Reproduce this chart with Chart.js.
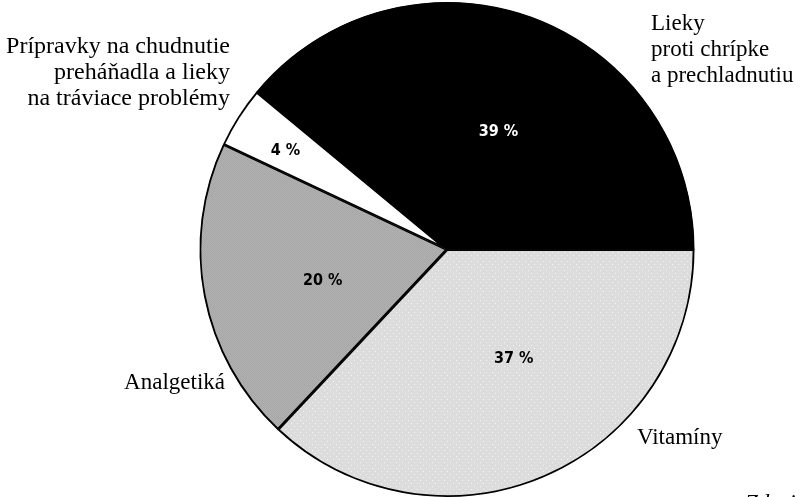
<!DOCTYPE html>
<html>
<head>
<meta charset="utf-8">
<script src="https://cdn.jsdelivr.net/npm/chart.js@4.4.1/dist/chart.umd.min.js"></script>
<style>
  html, body { margin: 0; padding: 0; background: #fff; }
  .wrap { position: relative; width: 802px; height: 497px; }
</style>
</head>
<body>
<div class="wrap"><canvas id="pie" width="802" height="497"></canvas></div>
<script>
// slices, clockwise from 3 o'clock
const categories = ['Vitamíny', 'Analgetiká', 'Prípravky na chudnutie, preháňadlá a lieky na tráviace problémy', 'Lieky proti chrípke a prechladnutiu'];
const shares = [37, 20, 4, 39];
const shareLabels = ['37 %', '20 %', '4 %', '39 %'];
const outerLabels = [
    ['Vitamíny'],
    ['Analgetiká'],
    ['Prípravky na chudnutie', 'preháňadla a lieky', 'na tráviace problémy'],
    ['Lieky', 'proti chrípke', 'a prechladnutiu']
];

function makePattern(base, dot, step) {
    const c = document.createElement('canvas');
    c.width = step; c.height = step;
    const g = c.getContext('2d');
    g.fillStyle = base;
    g.fillRect(0, 0, step, step);
    g.fillStyle = dot;
    g.fillRect(0, 0, 1, 1);
    g.fillRect(step / 2, step / 2, 1, 1);
    return g.createPattern(c, 'repeat');
}

const SERIF = '"Liberation Serif", "DejaVu Serif", serif';

const labelPlugin = {
    id: 'sliceLabels',
    afterDatasetsDraw(chart) {
        const ctx = chart.ctx;
        const arcs = chart.getDatasetMeta(0).data;
        // [radius fraction, angle nudge in degrees] for the % labels
        const spots = [[0.517, -8], [0.518, -3.3], [0.766, -0.9], [0.52, 3.8]];
        ctx.save();
        ctx.font = 'bold 16px "DejaVu Sans Condensed", "DejaVu Sans", sans-serif';
        ctx.textAlign = 'center';
        ctx.textBaseline = 'middle';
        arcs.forEach((arc, i) => {
            const mid = (arc.startAngle + arc.endAngle) / 2 + spots[i][1] * Math.PI / 180;
            const r = arc.outerRadius * spots[i][0];
            ctx.fillStyle = i === 3 ? '#fff' : '#000';
            ctx.fillText(shareLabels[i], arc.x + Math.cos(mid) * r, arc.y + Math.sin(mid) * r);
        });

        // outside labels
        ctx.fillStyle = '#000';
        ctx.textBaseline = 'alphabetic';
        const cx = arcs[0].x, cy = arcs[0].y;
        const place = [
            { x: cx + 190, y: cy + 194, align: 'left', size: 23 },
            { x: cx - 222, y: cy + 139, align: 'right', size: 23 },
            { x: cx - 217, y: cy - 197, align: 'right', size: 24 },
            { x: cx + 204, y: cy - 220, align: 'left', size: 23 }
        ];
        outerLabels.forEach((lines, i) => {
            ctx.font = place[i].size + 'px ' + SERIF;
            ctx.textAlign = place[i].align;
            lines.forEach((line, k) => ctx.fillText(line, place[i].x, place[i].y + k * 26));
        });

        ctx.font = 'italic 23px ' + SERIF;
        ctx.textAlign = 'left';
        ctx.fillText('Zdroj:', 745, 510);
        ctx.restore();
    }
};

new Chart(document.getElementById('pie'), {
    type: 'pie',
    data: {
        labels: categories,
        datasets: [{
            data: shares,
            backgroundColor: [
                makePattern('#dcdcdc', '#f4f4f4', 6),
                makePattern('#b2b2b2', '#a6a6a6', 2),
                '#ffffff',
                '#000000'
            ],
            borderColor: '#000',
            borderWidth: 1.5,
            borderAlign: 'inner'
        }]
    },
    plugins: [labelPlugin],
    options: {
        responsive: false,
        animation: false,
        rotation: 90,
        layout: { padding: { left: 197, right: 105, top: 2, bottom: 0 } },
        plugins: {
            legend: { display: false },
            tooltip: { enabled: false }
        }
    }
});
</script>
</body>
</html>
